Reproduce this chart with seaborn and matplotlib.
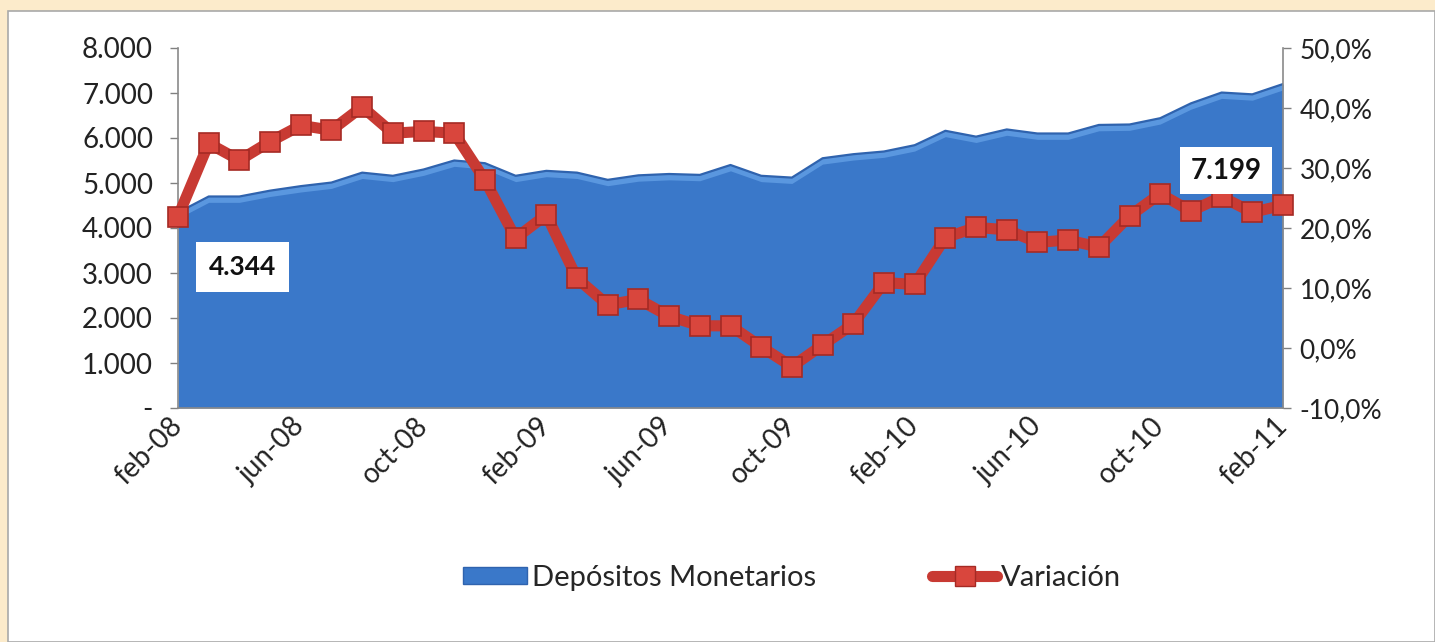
import matplotlib
matplotlib.use("Agg")
import matplotlib.pyplot as plt
import matplotlib.patches as mpatches
from matplotlib.lines import Line2D
from matplotlib.ticker import FuncFormatter, FixedLocator
import seaborn as sns
import pandas as pd
import numpy as np

months = ["feb-08", "mar-08", "abr-08", "may-08", "jun-08", "jul-08", "ago-08", "sep-08",
          "oct-08", "nov-08", "dic-08", "ene-09", "feb-09", "mar-09", "abr-09", "may-09",
          "jun-09", "jul-09", "ago-09", "sep-09", "oct-09", "nov-09", "dic-09", "ene-10",
          "feb-10", "mar-10", "abr-10", "may-10", "jun-10", "jul-10", "ago-10", "sep-10",
          "oct-10", "nov-10", "dic-10", "ene-11", "feb-11"]

depositos = [4344, 4700, 4700, 4830, 4930, 5010, 5230, 5160, 5300, 5500, 5440, 5160,
             5270, 5230, 5070, 5170, 5200, 5180, 5400, 5160, 5120, 5550, 5640, 5700,
             5840, 6160, 6030, 6190, 6100, 6100, 6290, 6300, 6440, 6770, 7010, 6970, 7199]

variacion = [21.9, 34.1, 31.3, 34.4, 37.1, 36.3, 40.2, 35.8, 36.1, 35.8, 28.0, 18.3,
             22.2, 11.6, 7.2, 8.1, 5.3, 3.7, 3.7, 0.2, -3.1, 0.5, 4.0, 10.9,
             10.6, 18.4, 20.1, 19.7, 17.6, 18.0, 16.8, 22.0, 25.7, 22.8, 25.2, 22.6, 23.8]

tick_labels = ["feb-08", "jun-08", "oct-08", "feb-09", "jun-09", "oct-09",
               "feb-10", "jun-10", "oct-10", "feb-11"]

df = pd.DataFrame({"idx": np.arange(len(months)), "mes": months,
                   "dep": depositos, "var": variacion})

sns.set_theme(style="white")
plt.rcParams["font.family"] = ["Lato", "DejaVu Sans"]

fig = plt.figure(figsize=(14.35, 6.42), dpi=100)
fig.patch.set_facecolor("#FCEBCB")
panel = mpatches.Rectangle((8 / 1435, 0), 1 - 8 / 1435, 1 - 11 / 642,
                           transform=fig.transFigure, facecolor="white",
                           edgecolor="#A9A9A9", linewidth=1.2, zorder=-10)
fig.patches.append(panel)

ax = fig.add_axes([178 / 1435, 1 - 408 / 642, (1283 - 178) / 1435, (408 - 48) / 642])
ax.set_facecolor("none")

# area
ax.fill_between(df["idx"], 0, df["dep"], color="#3A78C9", zorder=1, linewidth=0)
ax.fill_between(df["idx"], np.array(depositos) - 130, df["dep"], color="#5A97DF",
                zorder=1.5, linewidth=0)
sns.lineplot(data=df, x="idx", y="dep", ax=ax, color="#2F63AE", linewidth=1.6,
             zorder=2, legend=False)

ax.set_xlim(0, len(months) - 1)
ax.set_ylim(0, 8000)
ax.yaxis.set_major_locator(FixedLocator(np.arange(0, 8001, 1000)))
ax.yaxis.set_major_formatter(FuncFormatter(
    lambda v, p: "-" if v == 0 else f"{int(v):,}".replace(",", ".")))
tick_pos = [months.index(t) for t in tick_labels]
ax.set_xticks(tick_pos)
ax.set_xticklabels(tick_labels, rotation=45, ha="right", va="center",
                   rotation_mode="anchor")
ax.set_xlabel("")
ax.set_ylabel("")
ax.tick_params(axis="both", labelsize=20, length=6, direction="out", width=1)
ax.tick_params(axis="y", colors="#808080", labelcolor="#222222", pad=12)
ax.tick_params(axis="x", colors="#808080", labelcolor="#222222", pad=4)
for s in ["top", "right"]:
    ax.spines[s].set_visible(False)
for s in ["left", "bottom"]:
    ax.spines[s].set_color("#8A8A8A")
    ax.spines[s].set_linewidth(1.2)

ax2 = ax.twinx()
sns.lineplot(data=df, x="idx", y="var", ax=ax2, color="#C83A33", linewidth=8,
             marker="s", markersize=15, markerfacecolor="#D9463D",
             markeredgecolor="#A52A24", markeredgewidth=1.2, legend=False,
             zorder=3, clip_on=False)
ax2.set_ylim(-10, 50)
ax2.yaxis.set_major_locator(FixedLocator(np.arange(-10, 51, 10)))
ax2.yaxis.set_major_formatter(FuncFormatter(lambda v, p: f"{v:.1f}%".replace(".", ",")))
ax2.set_ylabel("")
ax2.set_xlabel("")
ax2.tick_params(axis="y", labelsize=19, colors="#808080", labelcolor="#222222",
                length=6, direction="out", width=1, pad=6)
for s in ["top", "left", "bottom"]:
    ax2.spines[s].set_visible(False)
ax2.spines["right"].set_color("#8A8A8A")
ax2.spines["right"].set_linewidth(1.2)

# value labels
ax2.text(1.0, 3130, f"{depositos[0]:,}".replace(",", "."), transform=ax.transData,
         fontsize=19, fontweight="bold", color="#111111", ha="left", va="center",
         bbox=dict(boxstyle="square,pad=0.5", facecolor="white", edgecolor="none"),
         zorder=5)
ax2.text(35.3, 5270, f"{depositos[-1]:,}".replace(",", "."), transform=ax.transData,
         fontsize=20, fontweight="bold", color="#111111", ha="right", va="center",
         bbox=dict(boxstyle="square,pad=0.38", facecolor="white", edgecolor="none"),
         zorder=5)

# legend
h1 = mpatches.Patch(facecolor="#3A78C9", edgecolor="#2F63AE", label="Depósitos Monetarios")
h2 = Line2D([0], [0], color="#C83A33", linewidth=8, marker="s", markersize=15,
            markerfacecolor="#D9463D", markeredgecolor="#A52A24",
            label="Variación")
fig.legend(handles=[h1, h2], loc="center", bbox_to_anchor=(0.552, 0.1), ncol=2,
           frameon=False, fontsize=21, columnspacing=4.0, handlelength=2.2,
           handleheight=0.5, handletextpad=0.15)

fig.savefig("out.png", dpi=100, facecolor=fig.get_facecolor())
